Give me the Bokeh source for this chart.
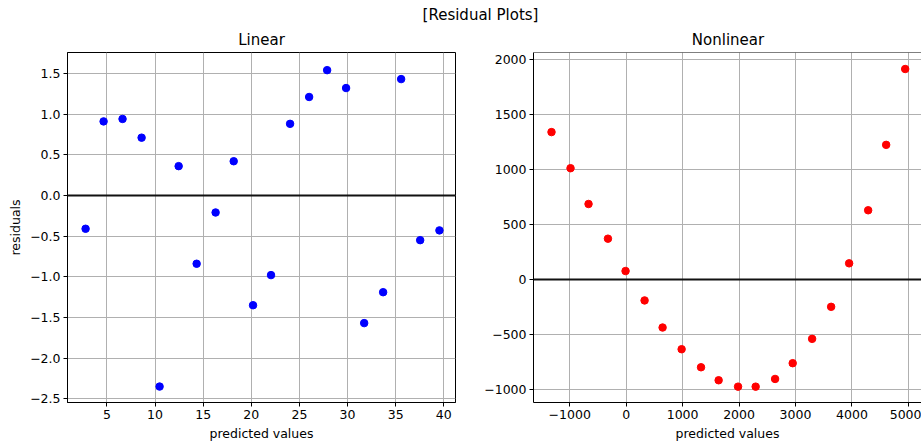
from bokeh.plotting import figure
from bokeh.layouts import column, row
from bokeh.models import FixedTicker, Span, Range1d, Label
from bokeh.embed import file_html
from bokeh.resources import INLINE

# ---- data ----
lin_pred = [2.78, 4.65, 6.62, 8.60, 10.47, 12.45, 14.32, 16.29, 18.17, 20.18,
            22.05, 24.03, 26.01, 27.88, 29.85, 31.73, 33.70, 35.57, 37.55, 39.55]
lin_res = [-0.41, 0.91, 0.94, 0.71, -2.35, 0.36, -0.84, -0.21, 0.42, -1.35,
           -0.98, 0.88, 1.21, 1.54, 1.32, -1.57, -1.19, 1.43, -0.55, -0.43]

nl_pred = [-1323, -986, -667, -323, -11, 326, 645, 982, 1326, 1638,
           1982, 2294, 2638, 2950, 3294, 3631, 3950, 4287, 4606, 4943]
nl_res = [1338, 1010, 685, 370, 76, -191, -437, -634, -798, -916,
          -974, -974, -904, -761, -540, -249, 146, 628, 1222, 1911]

lin_xticks = [5, 10, 15, 20, 25, 30, 35, 40]
lin_yticks = [-2.5, -2.0, -1.5, -1.0, -0.5, 0.0, 0.5, 1.0, 1.5]
nl_xticks = [-1000, 0, 1000, 2000, 3000, 4000, 5000]
nl_yticks = [-1000, -500, 0, 500, 1000, 1500, 2000]

suptitle = "[Residual Plots]"
titles = ["Linear", "Nonlinear"]
xlabel = "predicted values"
ylabel = "residuals"

FONT = "DejaVu Sans"
TXT = "#000000"


def lab(v, dec):
    s = f"{v:.{dec}f}"
    return s.replace("-", "\u2212")


def style(p, xt, yt, xdec, ydec):
    p.xaxis.ticker = FixedTicker(ticks=xt)
    p.yaxis.ticker = FixedTicker(ticks=yt)
    p.xaxis.major_label_overrides = {v: lab(v, xdec) for v in xt}
    p.yaxis.major_label_overrides = {v: lab(v, ydec) for v in yt}
    for ax in (p.xaxis[0], p.yaxis[0]):
        ax.major_label_text_font = FONT
        ax.major_label_text_font_size = "12.5px"
        ax.major_label_text_color = TXT
        ax.axis_label_text_font = FONT
        ax.axis_label_text_font_size = "12.5px"
        ax.axis_label_text_font_style = "normal"
        ax.axis_label_text_color = TXT
        ax.major_tick_out = 4
        ax.major_tick_in = 0
        ax.major_tick_line_color = "black"
        ax.minor_tick_line_color = None
        ax.axis_line_color = "black"
        ax.axis_line_width = 1
        ax.major_label_standoff = 3
    p.xaxis.axis_label_standoff = 4
    p.yaxis.axis_label_standoff = 4
    p.grid.grid_line_color = "#b0b0b0"
    p.grid.grid_line_width = 1
    p.outline_line_color = "black"
    p.outline_line_width = 1
    p.add_layout(Span(location=0, dimension="width", line_color="#111111", line_width=2))


W_TOTAL = 921
H_TOP = 50
H_ROW = 445 - H_TOP
TOP_B = 52 - H_TOP
BOT_B = H_ROW - TOP_B - 350

# title strip: suptitle and the two panel titles (pixel-sized ranges)
top = figure(width=W_TOTAL, height=H_TOP, x_range=Range1d(0, W_TOTAL), y_range=Range1d(0, H_TOP),
             toolbar_location=None, output_backend="svg", min_border=0,
             x_axis_location=None, y_axis_location=None)
top.grid.visible = False
top.outline_line_color = None
for tx, ty, tt in ((480, H_TOP - 14, suptitle), (261, H_TOP - 39, titles[0]), (727.5, H_TOP - 39, titles[1])):
    top.add_layout(Label(x=tx, y=ty, text=tt, text_align="center", text_baseline="middle",
                         text_font=FONT, text_font_size="15px", text_color=TXT))

p1 = figure(width=465, height=H_ROW, toolbar_location=None, output_backend="svg",
            x_range=Range1d(0.90, 41.22), y_range=Range1d(-2.546, 1.757),
            min_border_left=67, min_border_right=10, min_border_top=TOP_B, min_border_bottom=BOT_B)
p1.scatter(lin_pred, lin_res, size=7.5, fill_color="#0000ff", line_color="#0000ff")
style(p1, lin_xticks, lin_yticks, 0, 1)
p1.xaxis.axis_label = xlabel
p1.yaxis.axis_label = ylabel

NL_YMAX = 2061
p2 = figure(width=456, height=H_ROW, toolbar_location=None, output_backend="svg",
            x_range=Range1d(-1642, 5232), y_range=Range1d(-1118, NL_YMAX),
            min_border_left=68, min_border_right=0, min_border_top=TOP_B, min_border_bottom=BOT_B)
p2.scatter(nl_pred, nl_res, size=7.5, fill_color="#ff0000", line_color="#ff0000")
style(p2, nl_xticks, nl_yticks, 0, 0)
p2.xaxis.axis_label = xlabel
# the right spine of this panel lies beyond the picture's edge in the reference
p2.outline_line_color = None
p2.add_layout(Span(location=NL_YMAX, dimension="width", line_color="black", line_width=1))

layout = column(top, row(p1, p2, spacing=0), spacing=0)

open("out.html", "w").write(file_html(layout, INLINE))
